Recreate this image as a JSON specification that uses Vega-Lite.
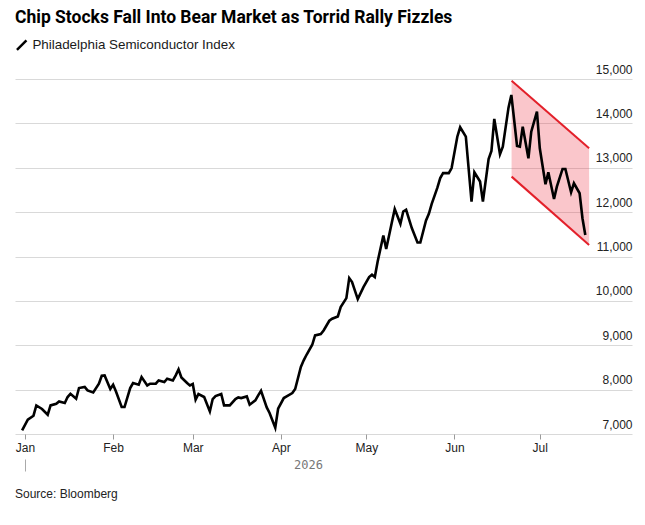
{
  "$schema": "https://vega.github.io/schema/vega-lite/v6.json",
  "width": 617,
  "height": 355,
  "autosize": {"type": "none"},
  "padding": {"left": 15, "top": 79, "right": 13, "bottom": 91},
  "background": "white",
  "title": {
    "text": "Source: Bloomberg",
    "orient": "bottom",
    "anchor": "start",
    "frame": "group",
    "offset": 17,
    "font": "Liberation Sans",
    "fontSize": 12,
    "fontWeight": "normal",
    "color": "#222222"
  },
  "datasets": {
    "series": [
      {"date": "2025-12-31", "value": 7081},
      {"date": "2026-01-02", "value": 7322},
      {"date": "2026-01-04", "value": 7412},
      {"date": "2026-01-05", "value": 7644},
      {"date": "2026-01-07", "value": 7563},
      {"date": "2026-01-09", "value": 7435},
      {"date": "2026-01-10", "value": 7644},
      {"date": "2026-01-12", "value": 7682},
      {"date": "2026-01-13", "value": 7734},
      {"date": "2026-01-15", "value": 7698},
      {"date": "2026-01-16", "value": 7833},
      {"date": "2026-01-17", "value": 7907},
      {"date": "2026-01-19", "value": 7795},
      {"date": "2026-01-20", "value": 8036},
      {"date": "2026-01-22", "value": 8059},
      {"date": "2026-01-23", "value": 7982},
      {"date": "2026-01-25", "value": 7937},
      {"date": "2026-01-27", "value": 8133},
      {"date": "2026-01-28", "value": 8313},
      {"date": "2026-01-29", "value": 8320},
      {"date": "2026-01-31", "value": 8014},
      {"date": "2026-02-01", "value": 8110},
      {"date": "2026-02-02", "value": 7959},
      {"date": "2026-02-04", "value": 7608},
      {"date": "2026-02-05", "value": 7608},
      {"date": "2026-02-07", "value": 8036},
      {"date": "2026-02-08", "value": 8149},
      {"date": "2026-02-10", "value": 8110},
      {"date": "2026-02-11", "value": 8284},
      {"date": "2026-02-13", "value": 8095},
      {"date": "2026-02-14", "value": 8133},
      {"date": "2026-02-16", "value": 8133},
      {"date": "2026-02-17", "value": 8207},
      {"date": "2026-02-19", "value": 8171},
      {"date": "2026-02-20", "value": 8245},
      {"date": "2026-02-22", "value": 8207},
      {"date": "2026-02-23", "value": 8320},
      {"date": "2026-02-24", "value": 8455},
      {"date": "2026-02-25", "value": 8275},
      {"date": "2026-02-27", "value": 8149},
      {"date": "2026-02-28", "value": 8095},
      {"date": "2026-03-01", "value": 8126},
      {"date": "2026-03-02", "value": 7773},
      {"date": "2026-03-03", "value": 7901},
      {"date": "2026-03-05", "value": 7833},
      {"date": "2026-03-07", "value": 7509},
      {"date": "2026-03-08", "value": 7788},
      {"date": "2026-03-09", "value": 7856},
      {"date": "2026-03-11", "value": 7901},
      {"date": "2026-03-12", "value": 7644},
      {"date": "2026-03-14", "value": 7644},
      {"date": "2026-03-16", "value": 7788},
      {"date": "2026-03-17", "value": 7824},
      {"date": "2026-03-18", "value": 7810},
      {"date": "2026-03-20", "value": 7847},
      {"date": "2026-03-21", "value": 7660},
      {"date": "2026-03-23", "value": 7757},
      {"date": "2026-03-24", "value": 7869},
      {"date": "2026-03-25", "value": 7975},
      {"date": "2026-03-27", "value": 7600},
      {"date": "2026-03-28", "value": 7473},
      {"date": "2026-03-30", "value": 7140},
      {"date": "2026-03-31", "value": 7570},
      {"date": "2026-04-02", "value": 7810},
      {"date": "2026-04-03", "value": 7847},
      {"date": "2026-04-05", "value": 7923},
      {"date": "2026-04-06", "value": 8014},
      {"date": "2026-04-08", "value": 8510},
      {"date": "2026-04-09", "value": 8660},
      {"date": "2026-04-10", "value": 8786},
      {"date": "2026-04-12", "value": 9011},
      {"date": "2026-04-13", "value": 9221},
      {"date": "2026-04-15", "value": 9252},
      {"date": "2026-04-16", "value": 9333},
      {"date": "2026-04-18", "value": 9552},
      {"date": "2026-04-19", "value": 9597},
      {"date": "2026-04-21", "value": 9649},
      {"date": "2026-04-22", "value": 9860},
      {"date": "2026-04-24", "value": 10063},
      {"date": "2026-04-25", "value": 10514},
      {"date": "2026-04-26", "value": 10423},
      {"date": "2026-04-28", "value": 10041},
      {"date": "2026-04-30", "value": 10311},
      {"date": "2026-05-02", "value": 10536},
      {"date": "2026-05-03", "value": 10588},
      {"date": "2026-05-04", "value": 10536},
      {"date": "2026-05-05", "value": 10887},
      {"date": "2026-05-07", "value": 11473},
      {"date": "2026-05-08", "value": 11167},
      {"date": "2026-05-10", "value": 11770},
      {"date": "2026-05-11", "value": 12068},
      {"date": "2026-05-13", "value": 11736},
      {"date": "2026-05-14", "value": 12014},
      {"date": "2026-05-15", "value": 12052},
      {"date": "2026-05-17", "value": 11640},
      {"date": "2026-05-19", "value": 11315},
      {"date": "2026-05-20", "value": 11315},
      {"date": "2026-05-22", "value": 11811},
      {"date": "2026-05-23", "value": 11962},
      {"date": "2026-05-24", "value": 12187},
      {"date": "2026-05-26", "value": 12550},
      {"date": "2026-05-27", "value": 12768},
      {"date": "2026-05-28", "value": 12880},
      {"date": "2026-05-30", "value": 12880},
      {"date": "2026-05-31", "value": 12993},
      {"date": "2026-06-02", "value": 13700},
      {"date": "2026-06-03", "value": 13912},
      {"date": "2026-06-05", "value": 13700},
      {"date": "2026-06-07", "value": 12236},
      {"date": "2026-06-08", "value": 12899},
      {"date": "2026-06-10", "value": 12689},
      {"date": "2026-06-11", "value": 12236},
      {"date": "2026-06-13", "value": 13198},
      {"date": "2026-06-14", "value": 13378},
      {"date": "2026-06-15", "value": 14099},
      {"date": "2026-06-17", "value": 13304},
      {"date": "2026-06-18", "value": 13475},
      {"date": "2026-06-20", "value": 14354},
      {"date": "2026-06-21", "value": 14640},
      {"date": "2026-06-23", "value": 13491},
      {"date": "2026-06-24", "value": 13475},
      {"date": "2026-06-25", "value": 13926},
      {"date": "2026-06-27", "value": 13214},
      {"date": "2026-06-28", "value": 13814},
      {"date": "2026-06-30", "value": 14264},
      {"date": "2026-07-01", "value": 13439},
      {"date": "2026-07-03", "value": 12628},
      {"date": "2026-07-04", "value": 12899},
      {"date": "2026-07-06", "value": 12297},
      {"date": "2026-07-07", "value": 12574},
      {"date": "2026-07-09", "value": 12973},
      {"date": "2026-07-10", "value": 12973},
      {"date": "2026-07-12", "value": 12448},
      {"date": "2026-07-13", "value": 12650},
      {"date": "2026-07-15", "value": 12425},
      {"date": "2026-07-16", "value": 11862},
      {"date": "2026-07-17", "value": 11486}
    ],
    "channel": [
      {"date": "2026-06-21T02:00:00Z", "upper": 14962, "lower": 12800},
      {"date": "2026-07-18T08:00:00Z", "upper": 13439, "lower": 11261}
    ]
  },
  "layer": [
    {
      "data": {"name": "channel"},
      "mark": {"type": "area", "color": "#ee3344", "opacity": 0.28},
      "encoding": {
        "x": {
          "field": "date",
          "type": "temporal",
          "scale": {
            "type": "utc",
            "domain": [
              {"year": 2025, "month": 12, "date": 28, "hours": 12, "utc": true},
              {"year": 2026, "month": 8, "date": 2, "hours": 10, "utc": true}
            ]
          },
          "axis": {
            "orient": "bottom",
            "offset": 25,
            "values": [{"year": 2026, "month": 1, "date": 1, "utc": true}],
            "labels": false,
            "domain": false,
            "grid": false,
            "tickSize": 12,
            "tickColor": "#aaaaaa",
            "title": "2026",
            "titleX": 293,
            "titleY": 5,
            "titleAlign": "center",
            "titleBaseline": "middle",
            "titlePadding": 0,
            "titleFont": "DejaVu Sans Mono",
            "titleFontSize": 12,
            "titleFontWeight": "normal",
            "titleColor": "#777777"
          }
        },
        "y": {
          "field": "upper",
          "type": "quantitative",
          "scale": {"domain": [7000, 15000]},
          "axis": {
            "orient": "right",
            "values": [7000, 8000, 9000, 10000, 11000, 12000, 13000, 14000, 15000],
            "format": ",.0f",
            "title": null,
            "domain": false,
            "ticks": false,
            "labelPadding": 0,
            "labelAlign": "right",
            "labelBaseline": "alphabetic",
            "labelOffset": -6,
            "grid": true,
            "gridColor": "#d9d9d9",
            "gridWidth": 1,
            "labelFont": "Liberation Sans",
            "labelFontSize": 12,
            "labelColor": "#222222"
          }
        },
        "y2": {"field": "lower"}
      }
    },
    {
      "data": {"name": "channel"},
      "mark": {"type": "line", "color": "#e3202a", "strokeWidth": 2},
      "encoding": {
        "x": {"field": "date", "type": "temporal", "axis": null},
        "y": {"field": "upper", "type": "quantitative", "axis": {"orient": "right", "format": ",.0f", "title": null}}
      }
    },
    {
      "data": {"name": "channel"},
      "mark": {"type": "line", "color": "#e3202a", "strokeWidth": 2},
      "encoding": {
        "x": {"field": "date", "type": "temporal", "axis": null},
        "y": {"field": "lower", "type": "quantitative", "axis": {"orient": "right", "format": ",.0f", "title": null}}
      }
    },
    {
      "data": {"name": "series"},
      "mark": {"type": "line", "strokeWidth": 2.6},
      "encoding": {
        "x": {
          "field": "date",
          "type": "temporal",
          "axis": {
            "orient": "bottom",
            "values": [
              {"year": 2026, "month": 1, "date": 1, "utc": true},
              {"year": 2026, "month": 2, "date": 1, "utc": true},
              {"year": 2026, "month": 3, "date": 1, "utc": true},
              {"year": 2026, "month": 4, "date": 1, "utc": true},
              {"year": 2026, "month": 5, "date": 1, "utc": true},
              {"year": 2026, "month": 6, "date": 1, "utc": true},
              {"year": 2026, "month": 7, "date": 1, "utc": true}
            ],
            "format": "%b",
            "title": null,
            "domain": false,
            "grid": false,
            "tickSize": 5,
            "tickColor": "#9a9a9a",
            "labelPadding": 3,
            "labelFlush": false,
            "labelFont": "Liberation Sans",
            "labelFontSize": 12,
            "labelColor": "#222222"
          }
        },
        "y": {"field": "value", "type": "quantitative", "axis": {"orient": "right", "format": ",.0f", "title": null}},
        "color": {
          "datum": "Philadelphia Semiconductor Index",
          "scale": {"range": ["#000000"]},
          "legend": {
            "orient": "none",
            "legendX": 0,
            "legendY": -70,
            "padding": 0,
            "title": "Chip Stocks Fall Into Bear Market as Torrid Rally Fizzles",
            "titleFont": "Roboto",
            "titleFontSize": 17.5,
            "titleFontWeight": "bold",
            "titleColor": "#000000",
            "titleLimit": 640,
            "titlePadding": 12,
            "labelFont": "Liberation Sans",
            "labelFontSize": 13.4,
            "labelColor": "#1a1a1a",
            "labelLimit": 500,
            "labelOffset": 4,
            "symbolType": "M -1 1 L 1 -1",
            "symbolSize": 90,
            "symbolStrokeWidth": 2.5
          }
        }
      }
    }
  ],
  "resolve": {"axis": {"x": "independent"}},
  "config": {
    "view": {"stroke": null},
    "numberFormat": ",.0f"
  }
}
